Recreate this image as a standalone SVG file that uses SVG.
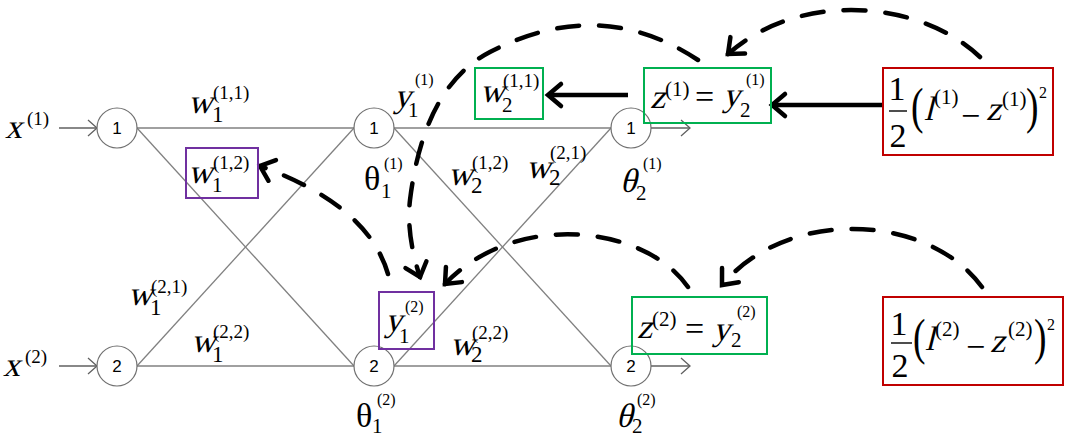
<svg xmlns="http://www.w3.org/2000/svg" width="1071" height="441" viewBox="0 0 1071 441">
<style>
.bg{fill:#fff}
.edge{stroke:#808080;stroke-width:1.3;fill:none}
.node{fill:#fff;stroke:#707070;stroke-width:1.2}
.num{font-family:"Liberation Sans",Arial,sans-serif;font-size:17px;fill:#000;text-anchor:middle}
.m{font-family:"Liberation Serif","Times New Roman",serif;font-size:34px;fill:#000}
.r{font-family:"Liberation Serif","Times New Roman",serif;font-size:34px;fill:#000}
.sb{font-family:"Liberation Serif","Times New Roman",serif;font-size:23px;fill:#000}
.sbs{font-family:"Liberation Serif","Times New Roman",serif;font-size:21px;fill:#000}
.sp{font-family:"Liberation Serif","Times New Roman",serif;font-size:19px;fill:#000}
.sps{font-family:"Liberation Serif","Times New Roman",serif;font-size:16px;fill:#000}
.sp2{font-family:"Liberation Serif","Times New Roman",serif;font-size:21px;fill:#000}
.par{font-family:"Liberation Serif","Times New Roman",serif;font-size:50px;fill:#000}
.pbox{fill:none;stroke:#7030A0;stroke-width:2}
.gbox{fill:none;stroke:#00B050;stroke-width:2}
.rbox{fill:none;stroke:#C00000;stroke-width:2}
.thick{stroke:#000;stroke-width:4.5;fill:none;marker-end:url(#ah)}
.dash{stroke:#000;stroke-width:4.5;fill:none;stroke-dasharray:22 20;stroke-linecap:round;marker-end:url(#ah)}
.thin{stroke:#606060;stroke-width:1.3;fill:none;marker-end:url(#th)}
.bar{stroke:#000;stroke-width:1.4}
</style>
<defs>
<marker id="ah" viewBox="-20 -15 25 30" refX="0" refY="0" markerWidth="25" markerHeight="30" markerUnits="userSpaceOnUse" orient="auto" overflow="visible">
<path d="M -13 -11 L 0 0 L -13 11" fill="none" stroke="#000" stroke-width="4.5" stroke-linecap="round" stroke-dasharray="none"/>
</marker>
<marker id="th" viewBox="-12 -9 14 18" refX="0" refY="0" markerWidth="14" markerHeight="18" markerUnits="userSpaceOnUse" orient="auto" overflow="visible">
<path d="M -9 -8 L 0 0 L -9 8" fill="none" stroke="#606060" stroke-width="1.3"/>
</marker>
</defs>
<rect class="bg" x="0" y="0" width="1071" height="441"/>

<g id="connectors">
<line class="thin" x1="59" y1="128" x2="97" y2="128"/>
<line class="thin" x1="59" y1="366" x2="97" y2="366"/>
<line class="edge" x1="137" y1="128" x2="354" y2="128"/>
<line class="edge" x1="137" y1="128" x2="354" y2="366"/>
<line class="edge" x1="137" y1="366" x2="354" y2="128"/>
<line class="edge" x1="137" y1="366" x2="354" y2="366"/>
<line class="edge" x1="394" y1="128" x2="611" y2="128"/>
<line class="edge" x1="394" y1="128" x2="611" y2="366"/>
<line class="edge" x1="394" y1="366" x2="611" y2="128"/>
<line class="edge" x1="394" y1="366" x2="611" y2="366"/>
<line class="thin" x1="651" y1="128" x2="690" y2="128"/>
<line class="thin" x1="651" y1="366" x2="690" y2="366"/>
<line class="thick" x1="883" y1="105" x2="772" y2="105"/>
<line class="thick" x1="628" y1="95" x2="548" y2="95"/>
<path class="dash" d="M 980 57 C 920 0, 800 -10, 728 54"/>
<path class="dash" d="M 698 60 Q 600 -5 490 52 Q 424 86 410 200 Q 406 234 420 277"/>
<path class="dash" d="M 388 274 Q 368 205 260 166"/>
<path class="dash" d="M 982 287 C 930 215, 790 205, 722 285"/>
<path class="dash" d="M 688 287 C 645 225, 515 210, 445 284"/>
</g>

<g id="in1"><circle class="node" cx="117" cy="128" r="20"/><text class="num" x="117" y="134">1</text></g>
<g id="in2"><circle class="node" cx="117" cy="366" r="20"/><text class="num" x="117" y="372">2</text></g>
<g id="h1"><circle class="node" cx="374" cy="128" r="20"/><text class="num" x="374" y="134">1</text></g>
<g id="h2"><circle class="node" cx="374" cy="366" r="20"/><text class="num" x="374" y="372">2</text></g>
<g id="o1"><circle class="node" cx="631" cy="128" r="20"/><text class="num" x="631" y="134">1</text></g>
<g id="o2"><circle class="node" cx="631" cy="366" r="20"/><text class="num" x="631" y="372">2</text></g>

<g id="x1"><text class="m" transform="translate(5,138) skewX(-14)">x</text><text class="sp" x="27" y="125">(1)</text></g>
<g id="x2"><text class="m" transform="translate(3,376) skewX(-14)">x</text><text class="sp" x="25" y="363">(2)</text></g>

<g id="w1_11"><text class="m" transform="translate(188,113) skewX(-14)">w</text><text class="sb" x="212" y="122">1</text><text class="sp" x="213" y="99">(1,1)</text></g>
<g id="w1_12"><rect class="pbox" x="186" y="148" width="72" height="50"/><text class="m" transform="translate(188,183) skewX(-14)">w</text><text class="sbs" x="212" y="192">1</text><text class="sp" x="213" y="169">(1,2)</text></g>
<g id="w1_21"><text class="m" transform="translate(128,305) skewX(-14)">w</text><text class="sb" x="150" y="315">1</text><text class="sp" x="151" y="293">(2,1)</text></g>
<g id="w1_22"><text class="m" transform="translate(191,352) skewX(-14)">w</text><text class="sb" x="212" y="362">1</text><text class="sp" x="213" y="338">(2,2)</text></g>

<g id="y1_1"><text class="m" transform="translate(394,107) skewX(-14)">y</text><text class="sbs" x="408" y="117">1</text><text class="sps" x="415" y="85">(1)</text></g>
<g id="th1_1"><text class="r" x="364" y="190">θ</text><text class="sbs" x="381" y="198">1</text><text class="sps" x="384" y="169">(1)</text></g>
<g id="w2_11"><rect class="gbox" x="475" y="68" width="68" height="51"/><text class="m" transform="translate(480,102) skewX(-14)">w</text><text class="sbs" x="502" y="112">2</text><text class="sp" x="503" y="87">(1,1)</text></g>
<g id="w2_12"><text class="m" transform="translate(448,185) skewX(-14)">w</text><text class="sb" x="471" y="193">2</text><text class="sp" x="472" y="169">(1,2)</text></g>
<g id="w2_21"><text class="m" transform="translate(526,178) skewX(-14)">w</text><text class="sb" x="549" y="185">2</text><text class="sp" x="550" y="159">(2,1)</text></g>
<g id="th2_1"><text class="m" transform="translate(620,192) skewX(-14)">θ</text><text class="sbs" x="636" y="200">2</text><text class="sps" x="643" y="169">(1)</text></g>

<g id="z1"><rect class="gbox" x="644" y="68" width="127" height="55"/><text class="m" transform="translate(650,108) skewX(-14)">z</text><text class="sp2" x="665" y="96">(1)</text><text class="r" x="695" y="108">=</text><text class="m" transform="translate(723,106) skewX(-14)">y</text><text class="sbs" x="740" y="117">2</text><text class="sps" x="746" y="85">(1)</text></g>
<g id="loss1"><rect class="rbox" x="883" y="68" width="170" height="87"/><text class="r" x="897" y="100" text-anchor="middle">1</text><line class="bar" x1="889" y1="111" x2="907" y2="111"/><text class="r" x="898" y="147" text-anchor="middle">2</text><text class="par" transform="translate(911,123) scale(0.75,1)">(</text><text class="m" transform="translate(924,120) skewX(-14)">l</text><text class="sp2" x="934" y="104">(1)</text><text class="r" x="961" y="127">−</text><text class="m" transform="translate(986,120) skewX(-14)">z</text><text class="sp2" x="1002" y="106">(1)</text><text class="par" transform="translate(1026,123) scale(0.75,1)">)</text><text class="sps" x="1039" y="98">2</text></g>

<g id="y1_2"><rect class="pbox" x="379" y="292" width="55" height="57"/><text class="m" transform="translate(385,331) skewX(-14)">y</text><text class="sbs" x="399" y="343">1</text><text class="sps" x="405" y="312">(2)</text></g>
<g id="w2_22"><text class="m" transform="translate(450,355) skewX(-14)">w</text><text class="sb" x="471" y="362">2</text><text class="sp" x="472" y="339">(2,2)</text></g>
<g id="th1_2"><text class="r" x="356" y="427">θ</text><text class="sbs" x="372" y="433">1</text><text class="sps" x="377" y="405">(2)</text></g>
<g id="th2_2"><text class="m" transform="translate(616,427) skewX(-14)">θ</text><text class="sbs" x="632" y="433">2</text><text class="sps" x="637" y="405">(2)</text></g>

<g id="z2"><rect class="gbox" x="632" y="297" width="135" height="57"/><text class="m" transform="translate(637,338) skewX(-14)">z</text><text class="sp2" x="652" y="326">(2)</text><text class="r" x="685" y="340">=</text><text class="m" transform="translate(713,340) skewX(-14)">y</text><text class="sbs" x="731" y="347">2</text><text class="sps" x="737" y="317">(2)</text></g>
<g id="loss2"><rect class="rbox" x="883" y="297" width="180" height="88"/><text class="r" x="899" y="335" text-anchor="middle">1</text><line class="bar" x1="891" y1="343" x2="912" y2="343"/><text class="r" x="900" y="377" text-anchor="middle">2</text><text class="par" transform="translate(913,354) scale(0.75,1)">(</text><text class="m" transform="translate(925,350) skewX(-14)">l</text><text class="sp2" x="935" y="336">(2)</text><text class="r" x="966" y="358">−</text><text class="m" transform="translate(990,352) skewX(-14)">z</text><text class="sp2" x="1008" y="336">(2)</text><text class="par" transform="translate(1034,354) scale(0.75,1)">)</text><text class="sps" x="1047" y="330">2</text></g>
</svg>
